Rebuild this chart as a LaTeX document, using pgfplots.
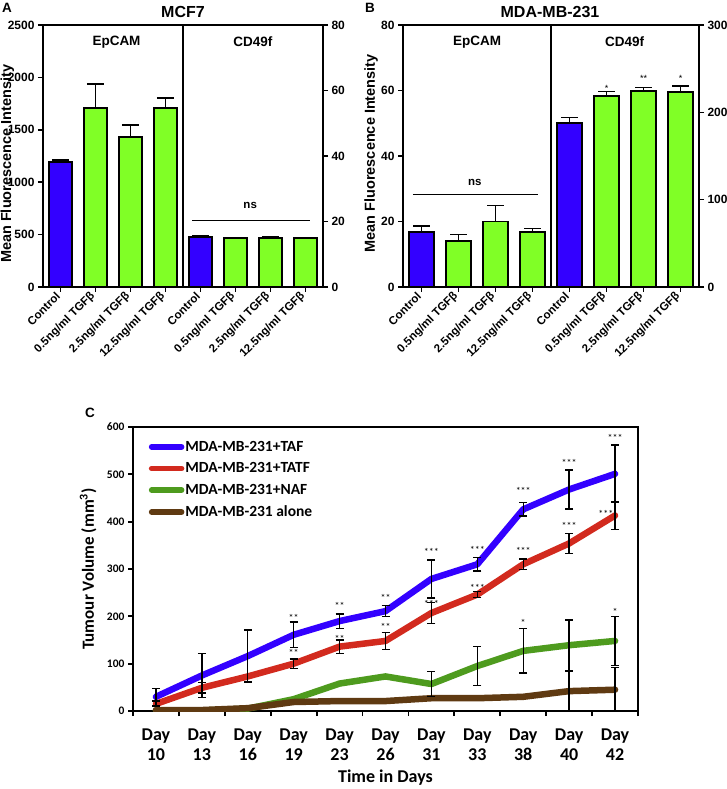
\documentclass[border=0pt]{standalone}
\usepackage{pgfplots}
\pgfplotsset{compat=1.18}
\usepackage{fontspec}
\setmainfont{Liberation Sans}
\newfontfamily\calfont{Carlito}

\definecolor{cblue}{RGB}{51,0,255}
\definecolor{cgreen}{RGB}{128,255,38}
\definecolor{lred}{RGB}{210,42,30}
\definecolor{lgreen}{RGB}{78,155,30}
\definecolor{lbrown}{RGB}{95,58,18}

\newcommand{\fs}[1]{\fontsize{#1}{#1}\selectfont}
% significance stars, centred on the glyphs
\newcommand{\sig}[3]{\node[font=\fs{9}, anchor=base, yshift=-5.2pt, inner sep=0pt] at (axis cs:#1,#2) {#3};}
\newcommand{\sigc}[3]{\node[font=\calfont\fs{10}, anchor=base, yshift=-5pt, inner sep=0pt] at (axis cs:#1,#2) {#3};}

\pgfplotsset{
 panel/.style={scale only axis, anchor=south west, xmin=-0.5, xmax=7.5, ymin=0,
  tick align=outside, major tick length=5pt, axis line style={line width=1.8pt},
  major tick style={line width=1.5pt,black}, clip=false,
  /pgf/number format/assume math mode=true, /pgf/number format/1000 sep={},
  scaled y ticks=false, yticklabel style={font=\bfseries\fs{12}}},
 leftax/.style={panel, tick pos=left, xtick={0,...,7},
  xticklabels={Control,0.5ng/ml TGFβ,2.5ng/ml TGFβ,12.5ng/ml TGFβ,Control,0.5ng/ml TGFβ,2.5ng/ml TGFβ,12.5ng/ml TGFβ},
  x tick label style={rotate=45, anchor=east, font=\bfseries\fs{11.5}},
  ylabel={Mean Fluorescence Intensity}, ylabel style={font=\bfseries\fs{14.5}, anchor=center}},
 rightax/.style={panel, axis x line=none, axis y line*=right},
 mybar/.style={ybar, bar width=0.66, bar shift=0pt, draw=black, line width=1.8pt,
  /pgfplots/error bars/y dir=plus, /pgfplots/error bars/y explicit,
  /pgfplots/error bars/error bar style={line width=1.5pt,black},
  /pgfplots/error bars/error mark options={black,line width=1.5pt,mark size=8.5pt,rotate=90}},
 errc/.style={draw=none, forget plot,
  /pgfplots/error bars/y dir=both, /pgfplots/error bars/y explicit,
  /pgfplots/error bars/error bar style={draw=black,line width=1.3pt},
  /pgfplots/error bars/error mark options={draw=black,line width=1.3pt,mark size=4pt,rotate=90}},
}

\begin{document}
\begin{tikzpicture}
\path[use as bounding box] (0pt,0pt) rectangle (726pt,789pt);

% ---------- A: MCF7 ----------
\begin{axis}[leftax, at={(43pt,502pt)}, width=280pt, height=262pt, ymax=2500, ytick={0,500,...,2500},
 ylabel style={at={(axis description cs:-0.127,0.47)}}]
\addplot[fill=cblue, mybar] coordinates {(0,1190) +- (0,20)};
\addplot[fill=cgreen, mybar] coordinates {(1,1705) +- (0,230) (2,1435) +- (0,110) (3,1705) +- (0,100)};
\draw[line width=1.6pt] (axis cs:3.5,0) -- (axis cs:3.5,2500);
\node[font=\bfseries\fs{13.5}] at (axis cs:1.6,2340) {EpCAM};
\node[font=\bfseries\fs{13.5}] at (axis cs:5.5,2340) {CD49f};
\end{axis}
\begin{axis}[rightax, at={(43pt,502pt)}, width=280pt, height=262pt, ymax=80, ytick={0,20,...,80}]
\addplot[fill=cblue, mybar] coordinates {(4,15.3) +- (0,0.3)};
\addplot[fill=cgreen, mybar] coordinates {(5,14.9) +- (0,0.2) (6,15.0) +- (0,0.3) (7,14.9) +- (0,0.2)};
\draw[line width=1pt] (axis cs:3.77,20.3) -- (axis cs:7.14,20.3);
\node[font=\bfseries\fs{11.5}] at (axis cs:5.42,25) {ns};
\end{axis}

% ---------- B: MDA-MB-231 ----------
\begin{axis}[leftax, at={(403pt,502pt)}, width=296pt, height=262pt, ymax=80, ytick={0,20,...,80},
 ylabel style={at={(axis description cs:-0.108,0.51)}}]
\addplot[fill=cblue, mybar] coordinates {(0,16.7) +- (0,2)};
\addplot[fill=cgreen, mybar] coordinates {(1,14.1) +- (0,1.9) (2,20) +- (0,4.9) (3,16.9) +- (0,0.9)};
\draw[line width=1.6pt] (axis cs:3.5,0) -- (axis cs:3.5,80);
\draw[line width=1pt] (axis cs:-0.23,28.1) -- (axis cs:3.14,28.1);
\node[font=\bfseries\fs{11.5}] at (axis cs:1.44,31.8) {ns};
\node[font=\bfseries\fs{13.5}] at (axis cs:1.5,74.9) {EpCAM};
\node[font=\bfseries\fs{13.5}] at (axis cs:5.49,74.9) {CD49f};
\end{axis}
\begin{axis}[rightax, at={(403pt,502pt)}, width=296pt, height=262pt, ymax=300, ytick={0,100,200,300}]
\addplot[fill=cblue, mybar] coordinates {(4,188) +- (0,6)};
\addplot[fill=cgreen, mybar] coordinates {(5,219) +- (0,5) (6,224.5) +- (0,4) (7,223) +- (0,7)};
\sig{5}{230}{*}
\sig{6}{240.8}{**}
\sig{7}{241.6}{*}
\end{axis}

\node[font=\bfseries\fs{13.5}] at (7pt,781pt) {A};
\node[font=\bfseries\fs{13.5}] at (370pt,781pt) {B};
\node[font=\bfseries\fs{16}] at (183pt,777pt) {MCF7};
\node[font=\bfseries\fs{16}] at (550pt,777pt) {MDA-MB-231};
\node[font=\bfseries\fs{13.5}] at (90pt,376pt) {C};

% ---------- C: tumour volume ----------
\begin{axis}[at={(133pt,78pt)}, anchor=south west, scale only axis, width=505pt, height=284pt,
 xmin=-0.5, xmax=10.5, ymin=0, ymax=600, ytick={0,100,...,600},
 xtick={-0.5,0.5,...,10.5}, xticklabels={},
 extra x ticks={0,...,10},
 extra x tick labels={{Day\\10},{Day\\13},{Day\\16},{Day\\19},{Day\\23},{Day\\26},{Day\\31},{Day\\33},{Day\\38},{Day\\40},{Day\\42}},
 extra x tick style={major tick length=0pt, tick label style={align=center, font=\calfont\bfseries\fontsize{18}{20}\selectfont, yshift=-14pt}},
 tick pos=left, tick align=outside, major tick length=5pt,
 axis line style={line width=2.8pt}, major tick style={line width=1.8pt,black},
 /pgf/number format/assume math mode=true,
 yticklabel style={font=\calfont\bfseries\fs{11.5}},
 xlabel={Time in Days}, xlabel style={font=\calfont\bfseries\fs{18}, at={(axis description cs:0.5,-0.235)}, anchor=center},
 ylabel={Tumour Volume (mm\textsuperscript{3})}, ylabel style={font=\calfont\bfseries\fs{17}, at={(axis description cs:-0.089,0.5)}, anchor=center},
 legend style={draw=none, fill=none, at={(0.031,0.955)}, anchor=north west, inner sep=0pt,
  font=\calfont\bfseries\fs{15.5}, row sep=8pt, nodes={inner sep=1pt}},
 legend cell align=left,
 legend image code/.code={\draw[#1, line width=5.5pt, line cap=round] (1pt,0pt) -- (31pt,0pt);}]
\addplot[cblue, line width=6.5pt, line cap=round, line join=round] coordinates
 {(0,30) (1,75) (2,116) (3,161) (4,190) (5,211) (6,279) (7,310) (8,426) (9,468) (10,501)};
\addlegendentry{MDA-MB-231+TAF}
\addplot[lred, line width=6.5pt, line cap=round, line join=round] coordinates
 {(0,15) (1,49) (2,73) (3,100) (4,136) (5,148) (6,207) (7,246) (8,310) (9,354) (10,413)};
\addlegendentry{MDA-MB-231+TATF}
\addplot[lgreen, line width=6.5pt, line cap=round, line join=round] coordinates
 {(0,1) (1,1) (2,5) (3,25) (4,58) (5,73) (6,57) (7,95) (8,127) (9,139) (10,148)};
\addlegendentry{MDA-MB-231+NAF}
\addplot[lbrown, line width=6.5pt, line cap=round, line join=round] coordinates
 {(0,2) (1,2) (2,6) (3,19) (4,21) (5,21) (6,27) (7,27) (8,30) (9,42) (10,45)};
\addlegendentry{MDA-MB-231 alone}
% error bars
\addplot[errc] coordinates {(0,30) +- (0,18) (1,75) +- (0,46) (2,116) +- (0,55) (3,161) +- (0,27)
 (4,190) +- (0,15) (5,211) +- (0,12) (6,279) +- (0,40) (7,310) +- (0,14) (8,426) +- (0,14)
 (9,468) +- (0,41) (10,501) +- (0,61)};
\addplot[errc] coordinates {(0,15) +- (0,6) (1,49) +- (0,11) (3,100) +- (0,10) (4,136) +- (0,14)
 (5,148) +- (0,18) (6,207) +- (0,22) (7,246) +- (0,6) (8,310) +- (0,11) (9,354) +- (0,21) (10,413) +- (0,30)};
\addplot[errc] coordinates {(6,57) +- (0,27) (7,95) +- (0,41) (8,127) +- (0,47) (9,139) +- (0,53) (10,148) +- (0,52)};
\addplot[errc] coordinates {(9,42) +- (0,42) (10,45) +- (0,47)};
% stars
\sigc{3}{199}{**} \sigc{3}{125}{**}
\sigc{4}{225}{**} \sigc{4}{156}{**}
\sigc{5}{241}{**} \sigc{5}{180}{**}
\sigc{6}{340}{***} \sigc{6}{229}{***}
\sigc{7}{344}{***} \sigc{7}{264}{***}
\sigc{8}{467}{***} \sigc{8}{342}{***} \sigc{8}{189}{*}
\sigc{9}{528}{***} \sigc{9}{394}{***}
\sigc{10}{580}{***} \sigc{9.8}{420}{***} \sigc{10}{213}{*}
\end{axis}
\end{tikzpicture}
\end{document}
